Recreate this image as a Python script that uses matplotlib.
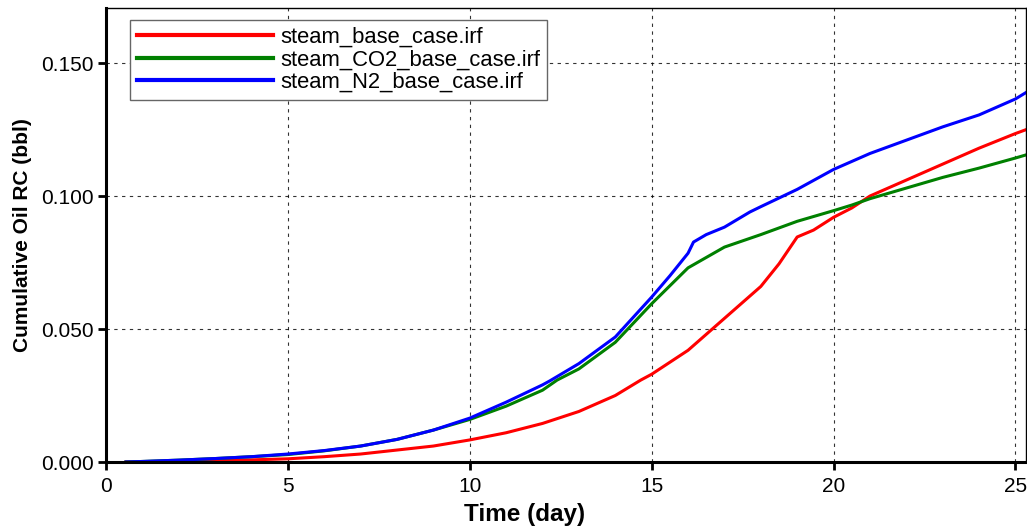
#!/usr/bin/env python3
"""Cumulative oil recovery vs time for three injection cases."""
import numpy as np
import matplotlib
matplotlib.use("Agg")
import matplotlib.pyplot as plt

plt.rcParams["font.family"] = ["Liberation Sans", "DejaVu Sans"]

# time (day) and cumulative oil RC (bbl) per case
t_base = [0.55, 1, 2, 3, 4, 5, 6, 7, 8, 9, 10, 11, 12, 13, 14, 14.7, 15, 16, 16.7,
          17, 18, 18.5, 19, 19.45, 20, 20.5, 21, 22, 23, 24, 25, 25.3]
oil_base = [0.0, 0.0001, 0.0003, 0.0005, 0.0008, 0.0012, 0.002, 0.003, 0.0045, 0.006,
            0.0083, 0.011, 0.0145, 0.019, 0.025, 0.0308, 0.033, 0.042, 0.0504,
            0.054, 0.066, 0.0745, 0.0846, 0.0872, 0.092, 0.0955, 0.100, 0.106,
            0.112, 0.118, 0.1235, 0.125]

t_co2 = [0.55, 1, 2, 3, 4, 5, 6, 7, 8, 9, 10, 11, 12, 12.4, 13, 14, 15, 16, 17,
         18, 19, 20, 20.5, 21, 22, 23, 24, 25, 25.3]
oil_co2 = [0.0, 0.0002, 0.0007, 0.0013, 0.002, 0.0028, 0.0042, 0.006, 0.0085, 0.012,
           0.016, 0.021, 0.027, 0.0308, 0.035, 0.045, 0.0595, 0.073, 0.0808,
           0.0855, 0.0905, 0.0945, 0.0966, 0.099, 0.103, 0.107, 0.1105, 0.1143, 0.1155]

t_n2 = [0.55, 1, 2, 3, 4, 5, 6, 7, 8, 9, 10, 11, 12, 12.2, 13, 14, 15, 15.5, 16, 16.15,
        16.5, 17, 17.7, 18, 19, 19.4, 20, 21, 22, 23, 24, 25, 25.3]
oil_n2 = [0.0, 0.0002, 0.0007, 0.0013, 0.002, 0.003, 0.0043, 0.006, 0.0085, 0.012,
          0.0165, 0.0225, 0.029, 0.0305, 0.037, 0.047, 0.062, 0.070, 0.0785, 0.0827,
          0.0855, 0.0883, 0.094, 0.096, 0.1025, 0.1055, 0.110, 0.116, 0.121, 0.126,
          0.1305, 0.1365, 0.139]

labels = ["steam_base_case.irf", "steam_CO2_base_case.irf", "steam_N2_base_case.irf"]
colors = ["#ff0000", "#008000", "#0000ff"]

fig = plt.figure(figsize=(10.27, 5.29), dpi=100)
ax = fig.add_axes([106 / 1027, 1 - 462 / 529, (1026 - 106) / 1027, (462 - 8) / 529])

for t, y, lab, c in zip([t_base, t_co2, t_n2], [oil_base, oil_co2, oil_n2], labels, colors):
    ax.plot(t, y, color=c, lw=2.2, label=lab)

ax.set_xlim(0, 25.29)
ax.set_ylim(0, 0.1707)
ax.set_xticks([0, 5, 10, 15, 20, 25])
ax.set_yticks([0.0, 0.05, 0.10, 0.15])
ax.set_yticklabels(["0.000", "0.050", "0.100", "0.150"])
ax.grid(True, color="black", linestyle=(0, (3, 4)), linewidth=0.8, alpha=0.8)

for side in ["left", "bottom"]:
    ax.spines[side].set_linewidth(2.2)
for side in ["top", "right"]:
    ax.spines[side].set_linewidth(1.0)
ax.tick_params(direction="out", length=6, width=2, labelsize=15)
ax.tick_params(axis="x", pad=5)
ax.tick_params(axis="y", pad=3)

# x label sits a little left of the axes centre
fig.text(525 / 1027, 1 - 515 / 529, "Time (day)", fontsize=17.5, fontweight="bold",
         ha="center", va="center")
ax.set_ylabel("Cumulative Oil RC (bbl)", fontsize=15, fontweight="bold", labelpad=6)

leg = ax.legend(loc="upper left", bbox_to_anchor=(24 / 920, 1 - 12 / 454), fontsize=15.8,
                fancybox=False, framealpha=1, edgecolor="#666666", handlelength=6.2,
                handletextpad=0.35, borderpad=0.3, labelspacing=0.08, borderaxespad=0)
leg.get_frame().set_linewidth(1.0)
for line in leg.get_lines():
    line.set_linewidth(3)

fig.savefig("out.png", dpi=100)
